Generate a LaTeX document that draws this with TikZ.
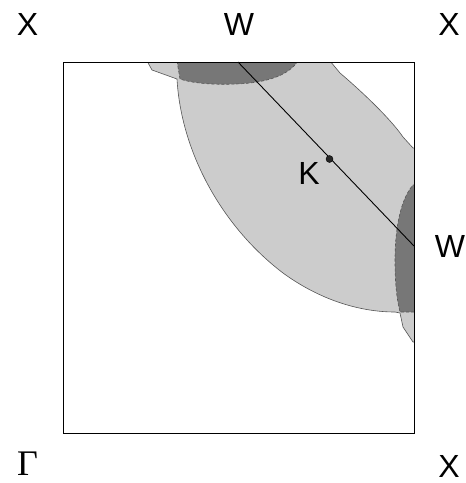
\documentclass[tikz,border=0pt]{standalone}
\usepackage{fontspec}
\setmainfont{Liberation Sans}
\newfontfamily\serifgamma{Liberation Serif}
\begin{document}
\begin{tikzpicture}[x=1pt,y=-1pt,
  lbl/.style={inner sep=0pt,anchor=center,font=\fontsize{32}{36}\selectfont},
  lightreg/.style={fill=lightfill,draw=edgegray,line width=0.6pt},
  darkreg/.style={fill=darkfill,draw=edgegray,line width=0.6pt,densely dashed}]
\definecolor{lightfill}{HTML}{CCCCCC}
\definecolor{darkfill}{HTML}{777777}
\definecolor{edgegray}{HTML}{555555}
\useasboundingbox (0,0) rectangle (466,483);
\begin{scope}
\clip (63,62) rectangle (414,433);
% light region
\path[lightreg] (147,61) -- (152,70) -- (177,79)
  .. controls (181,150) and (220,225) .. (283,273)
  .. controls (320,300) and (360,312) .. (395,312)
  -- (400,313) -- (403,327) -- (413,342) -- (416,342) -- (416,148)
  -- (413,148) -- (403,137) .. controls (390,118) and (360,90) .. (340,73) -- (330,61) -- cycle;
% dark top region
\path[darkreg] (177,61) -- (180,79) .. controls (200,86) and (240,85) .. (257,82)
  .. controls (275,79) and (290,73) .. (298,61) -- cycle;
% dark right region
\path[darkreg] (416,185) -- (413,185) .. controls (400,200) and (395,230) .. (395,260)
  .. controls (395,285) and (397,300) .. (400,312) -- (416,312) -- cycle;
\end{scope}
\draw[black,line width=0.9pt] (63,62) rectangle (414,433);
\coordinate (wtop) at (238,62);
\coordinate (wright) at (414,246);
\draw[black,line width=0.9pt] (wtop) -- (wright);
\node[circle,fill=black!85,draw=black,inner sep=0pt,minimum size=7pt] (kdot) at (329.5,159) {};
\node[lbl] (k) at (309,173.5) {K};
\node[lbl] (x1) at (27.5,24.5) {X};
\node[lbl] (w1) at (239,24.5) {W};
\node[lbl] (x2) at (449,24.5) {X};
\node[lbl] (w2) at (450,246.5) {W};
\node[lbl] (x3) at (449,466) {X};
\node[lbl,font=\serifgamma\fontsize{36}{40}\selectfont] (g) at (27.5,464) {Γ};
\end{tikzpicture}
\end{document}
